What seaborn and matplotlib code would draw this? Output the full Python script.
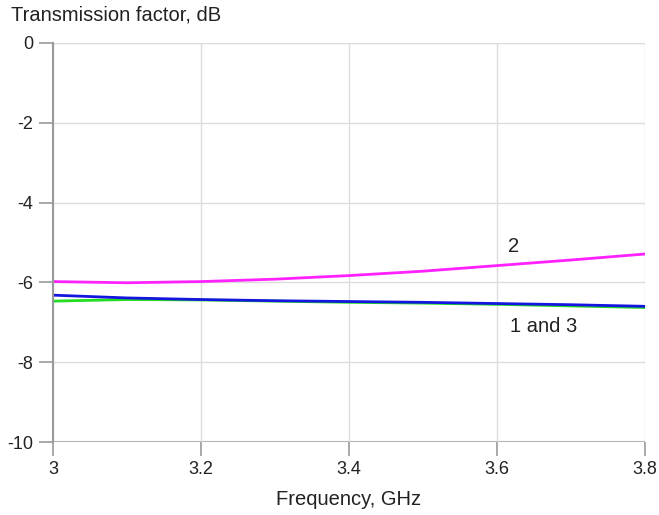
import numpy as np
import pandas as pd
import seaborn as sns
import matplotlib
matplotlib.use("Agg")
import matplotlib.pyplot as plt

freq = [3.0, 3.1, 3.2, 3.3, 3.4, 3.5, 3.6, 3.7, 3.8]
curve2 = [-5.98, -6.01, -5.98, -5.92, -5.83, -5.72, -5.58, -5.44, -5.29]
curve1 = [-6.32, -6.39, -6.43, -6.46, -6.48, -6.50, -6.53, -6.56, -6.60]
curve3 = [-6.47, -6.43, -6.44, -6.47, -6.50, -6.52, -6.55, -6.59, -6.63]

sns.set_theme(style="white")
plt.rcParams['font.family'] = ['Liberation Sans', 'DejaVu Sans']

fig = plt.figure(figsize=(6.59, 5.15), dpi=100)
ax = fig.add_axes([0.0804, 0.1417, 0.898, 0.775])

df = pd.DataFrame({"f": freq * 3,
                   "v": curve3 + curve1 + curve2,
                   "s": ["3"] * len(freq) + ["1"] * len(freq) + ["2"] * len(freq)})
sns.lineplot(data=df, x="f", y="v", hue="s",
             palette={"3": "#22dd22", "1": "#1515e0", "2": "#ff22ff"},
             linewidth=2, legend=False, ax=ax)

ax.set_xlim(3.0, 3.8)
ax.set_ylim(-10, 0)
ax.set_xticks([3.0, 3.2, 3.4, 3.6, 3.8])
ax.set_xticklabels(["3", "3.2", "3.4", "3.6", "3.8"])
ax.set_yticks([0, -2, -4, -6, -8, -10])
ax.set_yticklabels(["0", "-2", "-4", "-6", "-8", "-10"])
ax.grid(True, color="#dcdcdc", linewidth=1)
for s in ["top", "right", "bottom"]:
    ax.spines[s].set_visible(False)
ax.spines["left"].set_color("#999999")
ax.spines["left"].set_linewidth(1.5)
ax.axhline(-10, color="#aaaaaa", linewidth=1.5, zorder=0)
ax.axhline(0, color="#b0b0b0", linewidth=1.5, zorder=0)
ax.tick_params(axis="both", which="both", direction="out", length=10, width=1.2,
               color="#999999", labelsize=13, labelcolor="#222222", pad=4,
               left=True, bottom=True)
ax.set_xlabel("Frequency, GHz", fontsize=14.5, color="#222222", labelpad=8)
ax.set_ylabel("")

fig.text(0.017, 0.99, "Transmission factor, dB", fontsize=14.5, color="#222222",
         ha="left", va="top")
ax.text(3.622, -5.1, "2", fontsize=14.5, color="#222222", ha="center", va="center")
ax.text(3.663, -7.1, "1 and 3", fontsize=14.5, color="#222222", ha="center", va="center")

fig.savefig("out.png", dpi=100)
